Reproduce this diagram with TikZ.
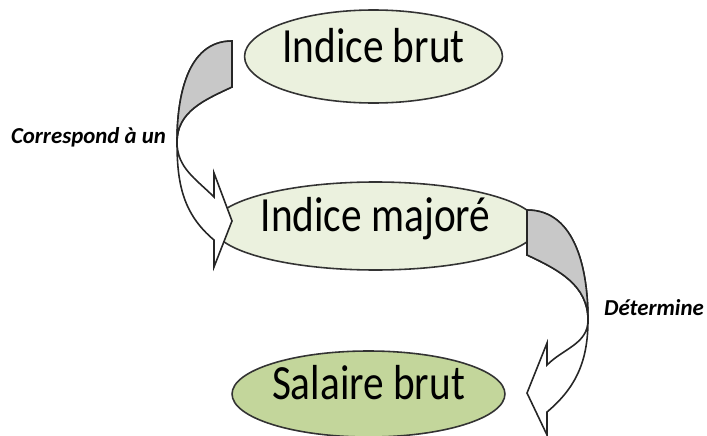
\documentclass[tikz,border=0pt]{standalone}
\usepackage{fontspec}
\setmainfont{Carlito}
\newfontfamily\bullefont[FakeStretch=0.84]{Carlito}
\usetikzlibrary{shapes.geometric}
\definecolor{vertclair}{RGB}{235,241,222}
\definecolor{vertfonce}{RGB}{195,214,155}
\definecolor{grisfleche}{RGB}{200,200,200}
\tikzset{
  bulle/.style={ellipse,draw=black!80,line width=0.9pt,inner sep=0pt,
    text height=0.644em,text depth=0pt,
    font=\bullefont\fontsize{28}{30}\selectfont},
  fleche/.style={draw=black!85,line width=0.9pt,line join=miter},
  etiquette/.style={font=\fontsize{13}{15}\selectfont\bfseries\itshape,anchor=base}
}
\begin{document}
\begin{tikzpicture}[x=0.02cm,y=0.02cm]
\useasboundingbox (0,0) rectangle (707,-436);
\pgfmathsetmacro{\xga}{232}
\pgfmathsetmacro{\xgb}{214}
\pgfmathsetmacro{\xgc}{177}
\pgfmathsetmacro{\xda}{527}
\pgfmathsetmacro{\xdb}{547}
\pgfmathsetmacro{\xdc}{588}
  \node[bulle,fill=vertclair,minimum width=217*0.02cm,minimum height=93*0.02cm] (brut) at (373.5,-56.5) {Indice brut};
  \node[bulle,fill=vertclair,minimum width=265*0.02cm,minimum height=88*0.02cm] (majore) at (375.5,-226) {Indice majoré};
  \node[bulle,fill=vertfonce,minimum width=247*0.02cm,minimum height=86*0.02cm] (salaire) at (368.5,-394) {Salaire brut};
  \coordinate (g1) at (\xga,-41);
  \coordinate (g2) at (\xga,-87);
  \coordinate (gc) at (\xgc,-142);
  \draw[fleche,fill=white] (g1) to[out=180,in=90] (gc) to[out=-90,in=140] (\xgb,-240)
    -- (\xgb,-267) -- (\xga,-221) -- (\xgb,-173) -- (\xgb,-197)
    to[out=135,in=-90] (gc) to[out=90,in=205] (g2) -- cycle;
  \draw[fleche,fill=grisfleche] (g1) to[out=180,in=90] (gc) to[out=90,in=205] (g2) -- cycle;
  \coordinate (d1) at (\xda,-210);
  \coordinate (d2) at (\xda,-255);
  \coordinate (dc) at (\xdc,-320);
  \draw[fleche,fill=white] (d1) to[out=0,in=90] (dc) to[out=-90,in=40] (\xdb,-412)
    -- (\xdb,-435) -- (\xda,-393) -- (\xdb,-343) -- (\xdb,-365)
    to[out=45,in=-90] (dc) to[out=90,in=-25] (d2) -- cycle;
  \draw[fleche,fill=grisfleche] (d1) to[out=0,in=90] (dc) to[out=90,in=-25] (d2) -- cycle;
  \node[etiquette] (correspond) at (88.5,-143) {Correspond à un};
  \node[etiquette] (determine) at (654,-315) {Détermine};
\end{tikzpicture}
\end{document}
